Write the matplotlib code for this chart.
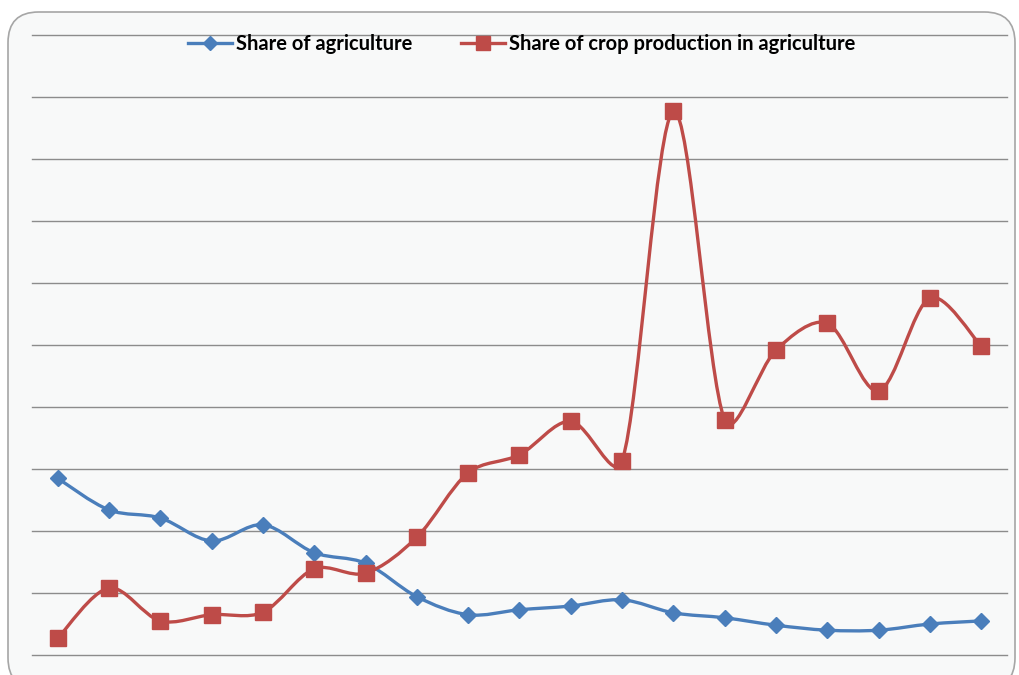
import matplotlib
matplotlib.use("Agg")
import matplotlib.pyplot as plt
import numpy as np
from matplotlib.path import Path
from matplotlib.patches import PathPatch, FancyBboxPatch
from matplotlib.lines import Line2D

categories = list(range(1, 20))
share_agriculture = [28.5, 23.4, 22.1, 18.4, 21.0, 16.5, 14.8, 9.4, 6.5, 7.3,
                     7.9, 8.9, 6.8, 6.0, 4.8, 4.0, 4.0, 5.0, 5.5]
share_crop = [2.7, 10.8, 5.5, 6.5, 6.9, 13.9, 13.2, 19.0, 29.4, 32.3,
              37.7, 31.3, 87.7, 37.9, 49.2, 53.5, 42.6, 57.6, 49.8]
series_names = ["Share of agriculture", "Share of crop production in agriculture"]

BLUE = "#4A7EBB"
RED = "#BE4B48"

fig = plt.figure(figsize=(10.2, 6.75), dpi=100)
fig.patch.set_facecolor("white")

frame = FancyBboxPatch((8/1020, -0.02), (1015-8)/1020, 1 - 12/675 + 0.02,
                       boxstyle="round,pad=0,rounding_size=0.03",
                       transform=fig.transFigure, facecolor="#F8F9F9",
                       edgecolor="#A6A6A6", linewidth=1.2, zorder=-10,
                       mutation_aspect=1020/675)
fig.patches.append(frame)

ax = fig.add_axes([32/1020, 1 - 655/675, (1007-32)/1020, (655-35)/675])
ax.set_zorder(1)
ax.patch.set_visible(False)
ax.set_xlim(0.5, len(categories) + 0.5)
ax.set_ylim(0, 100)
ax.set_yticks(np.arange(0, 101, 10))
ax.set_xticks([])
ax.tick_params(left=False, labelleft=False)
for s in ax.spines.values():
    s.set_visible(False)
ax.yaxis.grid(True, color="#8C8C8C", linewidth=1.0)
for gl in ax.get_ygridlines():
    gl.set_clip_on(False)
ax.set_axisbelow(True)

fig.canvas.draw()


def smooth_path(x, y):
    # smoothing computed in display space so the shape follows the screen aspect
    data = np.column_stack([np.asarray(x, float), np.asarray(y, float)])
    pts = ax.transData.transform(data)
    n = len(pts)
    seg = [np.hypot(*(pts[i + 1] - pts[i])) for i in range(n - 1)]
    tang = []
    for i in range(n):
        a = pts[i - 1] if i > 0 else pts[i]
        b = pts[i + 1] if i < n - 1 else pts[i]
        tang.append((b - a) / 6.0)
    verts = [pts[0]]
    codes = [Path.MOVETO]
    for i in range(n - 1):
        Li = seg[i]
        Lprev = seg[i - 1] if i > 0 else Li
        Lnext = seg[i + 1] if i + 1 < n - 1 else Li
        s1 = min(2 * Li / (Lprev + Li), 1.0) ** 0.6
        s2 = min(2 * Li / (Li + Lnext), 1.0) ** 0.6
        c1 = pts[i] + tang[i] * s1
        c2 = pts[i + 1] - tang[i + 1] * s2
        verts += [c1, c2, pts[i + 1]]
        codes += [Path.CURVE4] * 3
    verts = ax.transData.inverted().transform(np.array(verts))
    return Path(verts, codes)


for vals, color, marker, ms in [(share_agriculture, BLUE, "D", 8),
                                (share_crop, RED, "s", 11)]:
    p = smooth_path(categories, vals)
    ax.add_patch(PathPatch(p, facecolor="none", edgecolor=color, linewidth=2.4,
                           zorder=3, capstyle="round", joinstyle="round"))
    ax.plot(categories, vals, linestyle="none", marker=marker, markersize=ms,
            color=color, markeredgecolor=color, zorder=4)

handles = [Line2D([], [], color=BLUE, linewidth=2.4, marker="D", markersize=7),
           Line2D([], [], color=RED, linewidth=2.4, marker="s", markersize=10)]
leg = fig.legend(handles, series_names, loc="center", bbox_to_anchor=(522/1020, 1 - 44/675),
                 ncol=2, frameon=False, handlelength=2.2, handletextpad=0.2,
                 columnspacing=2.4,
                 prop={"family": ["Lato", "DejaVu Sans"],
                       "size": 14.5, "weight": "bold"})

fig.savefig("out.png", dpi=100, facecolor="white")
